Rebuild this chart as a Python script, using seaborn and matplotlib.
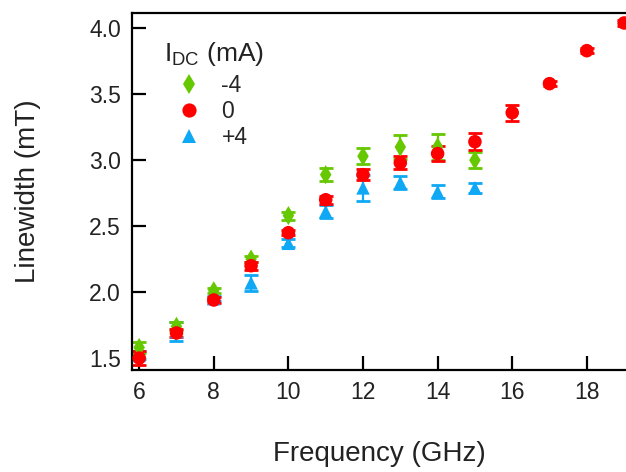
import numpy as np
import pandas as pd
from matplotlib import pyplot as plt
import seaborn as sns

# frequency (GHz)
freq_0 = [6, 7, 8, 9, 10, 11, 12, 13, 14, 15, 16, 17, 18, 19]
freq_pm = [6, 7, 8, 9, 10, 11, 12, 13, 14, 15]
# linewidth (mT) and error bars, per I_DC
lw_m4 = [1.58, 1.74, 2.01, 2.25, 2.58, 2.89, 3.03, 3.10, 3.10, 3.00]
err_m4 = [0.04, 0.03, 0.02, 0.02, 0.03, 0.05, 0.06, 0.09, 0.10, 0.06]
lw_0 = [1.50, 1.69, 1.94, 2.20, 2.45, 2.70, 2.89, 2.98, 3.05, 3.14, 3.36, 3.58, 3.83, 4.04]
err_0 = [0.05, 0.03, 0.02, 0.03, 0.02, 0.03, 0.04, 0.05, 0.06, 0.065, 0.06, 0.02, 0.02, 0.02]
lw_p4 = [1.52, 1.70, 1.95, 2.07, 2.37, 2.61, 2.79, 2.83, 2.76, 2.79]
err_p4 = [0.03, 0.07, 0.02, 0.06, 0.03, 0.05, 0.10, 0.05, 0.05, 0.04]

currents = ['-4', '0', '+4']
colors = {'-4': '#66c800', '0': '#ff0000', '+4': '#0fa8f5'}
markers = {'-4': 'd', '0': 'o', '+4': '^'}

# long table, red drawn last so it sits on top
df = pd.concat([
    pd.DataFrame({'f': freq_pm, 'lw': lw_p4, 'err': err_p4, 'I': '+4'}),
    pd.DataFrame({'f': freq_pm, 'lw': lw_m4, 'err': err_m4, 'I': '-4'}),
    pd.DataFrame({'f': freq_0, 'lw': lw_0, 'err': err_0, 'I': '0'}),
], ignore_index=True)

sns.set_style('ticks')
plt.rcParams['font.family'] = ['Liberation Sans', 'DejaVu Sans']
plt.rcParams['mathtext.default'] = 'regular'

fig = plt.figure(figsize=(6.26, 4.72), dpi=100)
ax = fig.add_axes([0.211, 0.216, 0.789, 0.756])

for cur in ['+4', '-4', '0']:
    d = df[df['I'] == cur]
    ax.errorbar(d['f'], d['lw'], yerr=d['err'], fmt='none', ecolor=colors[cur],
                elinewidth=1.6, capsize=4.8, capthick=2.0, zorder=2)

sns.scatterplot(data=df, x='f', y='lw', hue='I', style='I', hue_order=currents,
                style_order=currents, palette=colors, markers=markers, s=95,
                linewidth=0, ax=ax, zorder=3)

ax.set_xlim(5.81, 19.05)
ax.set_ylim(1.409, 4.114)
ax.set_xticks([6, 8, 10, 12, 14, 16, 18])
ax.set_yticks([1.5, 2.0, 2.5, 3.0, 3.5, 4.0])
ax.set_yticklabels(['1.5', '2.0', '2.5', '3.0', '3.5', '4.0'])

for s in ['left', 'bottom', 'top']:
    ax.spines[s].set_linewidth(1.6)
    ax.spines[s].set_color('black')
ax.spines['right'].set_visible(False)
ax.tick_params(direction='in', length=10, width=1.6, labelsize=16.5, pad=8,
               colors='black', labelcolor='#222222')

ax.set_xlabel('Frequency (GHz)', fontsize=20, color='#222222')
ax.set_ylabel('Linewidth (mT)', fontsize=20, color='#222222')
ax.xaxis.set_label_coords(0.5, -0.2)
ax.yaxis.set_label_coords(-0.185, 0.5)

h, l = ax.get_legend_handles_labels()
leg = ax.legend(h, l, title='I$_{DC}$ (mA)', loc='upper left',
                bbox_to_anchor=(0.065, 0.925), frameon=False, fontsize=16.5,
                title_fontsize=19, alignment='left', handletextpad=0.3,
                labelspacing=0.15, borderaxespad=0, markerscale=1.05,
                handlelength=2.2, borderpad=0)
leg.get_title().set_color('#222222')
leg._legend_box.sep = 4

plt.savefig('out.png', dpi=100)
